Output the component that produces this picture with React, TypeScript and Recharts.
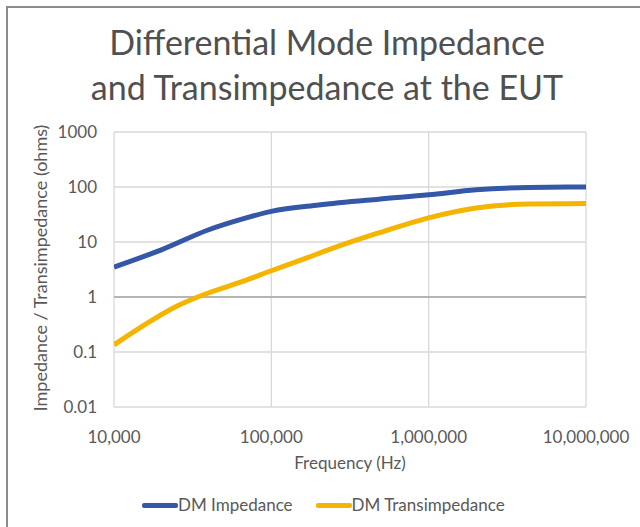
import React from "react";
import { LineChart, Line, XAxis, YAxis, CartesianGrid, ReferenceLine } from "recharts";

const frequencyTicks = [10000, 100000, 1000000, 10000000];
const impedanceTicks = [0.01, 0.1, 1, 10, 100, 1000];

const impedanceFreq = [10000, 20000, 40000, 65000, 100000, 200000, 480000, 1000000, 2000000, 4300000, 10000000];
const impedanceValues = [3.5, 7.2, 16.7, 26, 36, 47, 60, 72, 89, 98, 100];

const transFreq = [10000, 15000, 25000, 37000, 65000, 100000, 170000, 230000, 480000, 1000000, 2000000, 4300000, 10000000];
const transValues = [0.135, 0.29, 0.68, 1.1, 1.9, 3.0, 5.2, 7.2, 14.6, 27.5, 41.5, 49, 50];

const impedanceData = impedanceFreq.map((f, i) => ({ f, v: impedanceValues[i] }));
const transData = transFreq.map((f, i) => ({ f, v: transValues[i] }));

const seriesNames = ["DM Impedance", "DM Transimpedance"];
const seriesColors = ["#3557a8", "#f4b400"];

const FONT = "Lato, 'Open Sans', sans-serif";
const GRAY = "#595959";

const fmt = (v: number) => v.toLocaleString("en-US");

export default function App() {
  return (
    <div style={{ position: "absolute", left: 0, top: 0, width: 640, height: 527, background: "#fff", overflow: "hidden" }}>
      <div style={{ position: "absolute", left: 6, top: 6, width: 700, height: 600, borderLeft: "2px solid #8c8c8c", borderTop: "2px solid #8c8c8c" }} />
      <div style={{ position: "absolute", left: 0, top: 19, width: 654, textAlign: "center", fontFamily: FONT, fontSize: 34, lineHeight: "45px", color: "#505050" }}>
        Differential Mode Impedance
        <br />
        and Transimpedance at the EUT
      </div>
      <div style={{ position: "absolute", left: 40, top: 268, transform: "translate(-50%, -50%) rotate(-90deg)", whiteSpace: "nowrap", fontFamily: FONT, fontSize: 18, color: GRAY }}>
        Impedance / Transimpedance (ohms)
      </div>
      <div style={{ position: "absolute", left: 350, top: 462, transform: "translate(-50%, -50%)", whiteSpace: "nowrap", fontFamily: FONT, fontSize: 17, color: GRAY }}>
        Frequency (Hz)
      </div>
      <div style={{ position: "absolute", left: 142, top: 495, display: "flex", fontFamily: FONT, fontSize: 17, color: GRAY }}>
        {seriesNames.map((name, i) => (
          <div key={name} style={{ display: "flex", alignItems: "center", marginRight: i === 0 ? 23 : 0 }}>
            <div style={{ width: 36, height: 5, background: seriesColors[i], borderRadius: 2 }} />
            <span style={{ lineHeight: "20px" }}>{name}</span>
          </div>
        ))}
      </div>
      <LineChart width={640} height={527} margin={{ top: 132, right: 54, bottom: 90, left: 54 }}>
        <CartesianGrid stroke="#d9d9d9" strokeWidth={1.3} />
        <XAxis
          dataKey="f"
          type="number"
          scale="log"
          domain={[10000, 10000000]}
          ticks={frequencyTicks}
          tickFormatter={fmt}
          allowDataOverflow
          axisLine={false}
          tickLine={false}
          tickMargin={18}
          height={30}
          interval={0}
          tick={{ fill: GRAY, fontSize: 17, fontFamily: FONT }}
        />
        <YAxis
          type="number"
          scale="log"
          domain={[0.01, 1000]}
          ticks={impedanceTicks}
          tickFormatter={(v: number) => String(v)}
          allowDataOverflow
          axisLine={false}
          tickLine={false}
          tickMargin={11}
          width={60}
          interval={0}
          tick={{ fill: GRAY, fontSize: 17, fontFamily: FONT }}
        />
        <ReferenceLine y={1} stroke="#a6a6a6" strokeWidth={1.3} />
        <Line data={impedanceData} dataKey="v" name={seriesNames[0]} type="monotone" stroke={seriesColors[0]} strokeWidth={5} dot={false} isAnimationActive={false} />
        <Line data={transData} dataKey="v" name={seriesNames[1]} type="monotone" stroke={seriesColors[1]} strokeWidth={5} dot={false} isAnimationActive={false} />
      </LineChart>
    </div>
  );
}
